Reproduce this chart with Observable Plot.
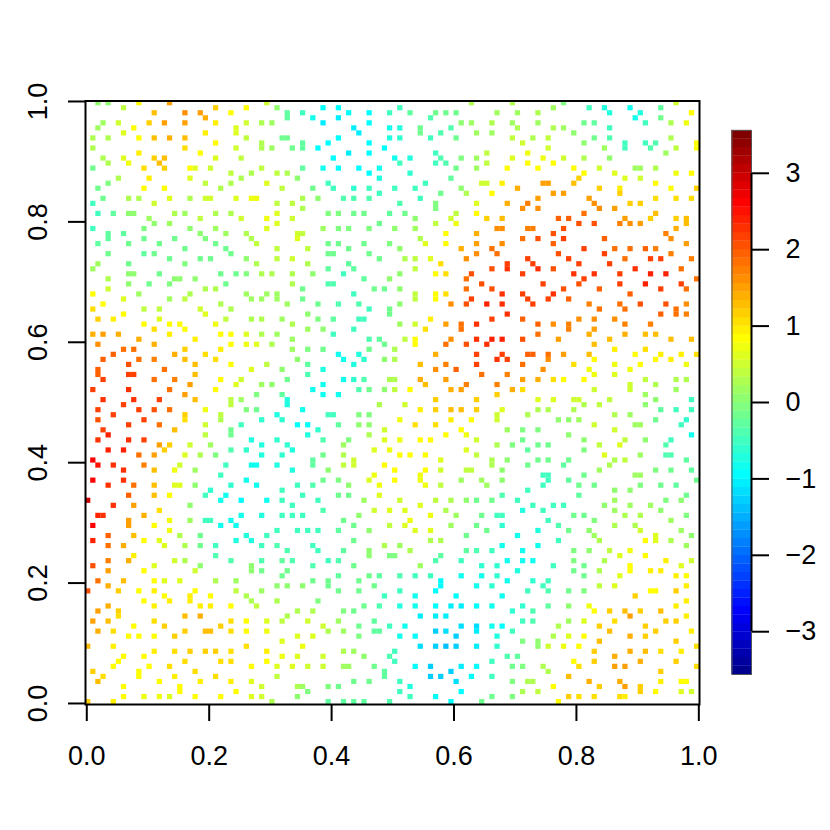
<!DOCTYPE html>
<html><head><meta charset="utf-8">
<style>html,body{margin:0;padding:0;background:#fff}#w{position:relative;width:830px;height:830px}#w svg{position:absolute;left:0;top:0;background:transparent}</style>
<script src="https://cdn.jsdelivr.net/npm/d3@7"></script>
<script src="https://cdn.jsdelivr.net/npm/@observablehq/plot@0.6"></script>
</head><body><div id="w"></div>
<script>
// each line: [grid row, col, z, col, z, ...]
const leftTop=[[119,2,.1,4,.1,10,1,16,1.6,35,.6],[118,7,.5,25,1.3,31,1,37,.1],[117,13,1.4,19,1.7,22,1.6,28,1,39,-.3],[116,23,1.5,39,-.3],[115,3,.2,6,.6,12,1.3,15,1.6,19,1.6,25,1.1,31,.6,34,.3,36,.2],[114,2,.2,9,1,29,.8],[113,7,.7,23,1.1,29,.7],[112,1,.4,4,.3,10,1,13,1.4,16,1.5,19,1.4,31,.5,38,-.2,39,-.2],[111,25,1,34,.3],[110,1,.3,19,1.2,29,.6,34,.3,36,.2],[109,10,1.1,22,1],[108,3,.3,7,.7,13,1.3,15,1.4,25,.7,30,.5],[107,4,.3,8,.9,14,1.4],[106,1,-.1,11,1.2,15,1.3,20,1,21,.7,24,.6,34,.5],[105,28,.5,32,.4,37,.5,39,.3],[104,6,.4,12,1.1,20,.7,30,.3],[103,4,0,23,.5,28,.4,35,.7],[102,2,-.2,11,1,15,1,26,.4,38,.5],[100,3,-.2,8,.4,10,.3,16,.7,20,.4,23,.6,24,.6,29,.7,32,.9,33,.9],[99,1,-.6,13,.6,37,.5],[97,2,-.5,5,-.3,8,.1,9,.1,17,.3,19,.2,25,.4,28,.3,37,.8],[96,12,.2,22,.5,30,.6,35,.9],[95,13,.1,16,.2,37,.8],[94,1,-.5,11,0,20,.1,25,.2,35,.8],[93,4,-.3,7,-.3,22,.1,27,.2,31,.3],[92,4,-.3,11,-.2,17,-.1,23,0,32,.4],[91,2,-.3,8,-.2,14,-.1,25,-.1,33,.5],[90,19,-.1,27,-.1,37,.5],[89,4,-.2,11,-.3,13,-.2,28,-.2],[88,16,-.2,22,-.2,24,-.2,31,.1,37,.5],[87,2,.2,8,-.2,19,0,33,.3],[86,1,.2],[85,8,.1,9,.1,14,-.1,26,-.2,29,-.1,31,0,34,.3,36,.4],[84,4,.4,17,.1,18,.1,21,.1],[83,8,.1,12,-.1,16,0,27,-.1],[82,4,.6,23,.3,25,.3],[81,1,1,10,.2,20,.3,31,.2,35,.2,37,.2],[80,7,.7,16,.2,19,.5,32,.2,34,.2,37,.2],[79,3,1,26,.3,39,.2]];
const leftMid=[[78,1,1.2,11,.5,14,.5,22,.6,28,.3],[77,7,1,23,.7],[76,2,1.3,5,1.1,14,.8,27,.5,32,.3,34,.3,38,.2],[75,11,1,16,1,18,1,25,.9],[74,13,1.2,19,1],[73,1,1.5,3,1.6,6,1.5,16,1.1,26,1,28,1,31,.7,34,.4,37,.2],[72,10,1.5,21,1.1],[71,2,1.7,13,1.5,28,1,31,.9,33,.7,36,.3],[70,7,1.9,9,1.9,19,1.3,26,1.1],[69,5,2,17,1.5,23,1.2],[68,3,2,10,1.9,13,1.8,19,1.4,25,1.2],[67,8,2.1,21,1.4,28,1,35,.5],[66,2,2,15,1.9,32,.7,38,.1],[65,2,2,8,2.2,9,2.2,21,1.4],[64,3,2.2,13,1.9,17,1.8,26,1,30,.6,39,-.2],[63,20,1.6,29,.7,34,.2,36,.1],[62,1,2.2,8,2.3,16,1.9,25,1],[61,19,1.6,33,0,38,-.3],[60,3,2.3,9,2.3,14,2.2,21,1.4,28,.5,30,.2,39,-.8],[59,7,2.2,28,.5,39,-.8],[58,2,2.2,10,2.2,13,2.1,16,1.9,23,.9,31,0,33,-.2],[57,5,2.2,19,1.3,26,.5,37,-.8],[56,2,2.1,11,2.2,19,1.2,26,.4,34,-.7,38,-.7],[55,8,2.2,14,1.9,23,.6,30,-.5],[54,3,2.2,17,1.4,28,-.1],[53,4,2.4,23,.5,28,-.1],[52,2,2.3,8,2.3,11,2.2,32,-.8,37,-.7],[51,14,1.6,16,1.3,20,.6,24,.2,34,-.8,39,-.7],[50,4,2.4,7,2.4,15,1.3,28,-.4,31,-.7],[49,10,1.9,13,1.6,19,.8,22,.3,25,0,34,-.8,38,-.7],[48,1,2.6],[47,2,2.5,5,2.3,11,1.8,18,.6,27,-.6,32,-.9,33,-.9,37,-.8],[46,7,2.3,13,1.4,17,.9,21,.2],[45,26,-.6],[44,1,2.7,7,2.3,31,-.9],[43,4,2.3,9,1.9,13,1.4,17,.8,18,.7,21,.1,28,-.7,33,-.9],[42,24,-.7,38,-.6],[41,8,2,13,1.4,16,1,23,-.5,27,-.9],[40,0,3,26,-.9,30,-1,35,-.9,38,-.6]];
const leftBot=[[39,5,2.3,9,1.6,20,.1],[38,14,1.2],[37,2,2.4,3,2.3,11,1.5,30,-.9,34,-.8,38,-.5],[36,8,1.6,16,.9,20,.2,23,-.5,24,-.5,28,-.9],[35,1,2.6,8,1.6,13,1,26,-.9,29,-.9],[34,16,.9,37,-.5],[33,4,2,9,1.4,18,.4,22,-.1,31,-.8,35,-.6],[32,1,2.4,11,1,14,.8,29,-.8,32,-.8],[31,4,1.9,7,1.5,15,.8,19,.3,22,-.1,25,-.5,34,-.5,37,-.4],[30,39,-.4],[29,9,1.1,25,-.4],[28,4,1.8,8,1.5,17,.6,19,.4,28,-.4,34,-.4,38,-.3],[27,1,2.1,13,.7,22,.1,32,.1],[26,4,1.6,11,1,21,.6,32,.1,34,-.2,39,-.1],[25,38,-.2],[24,2,1.9,7,1.4,13,1,15,.8,18,.7,25,.3,29,.2],[23,4,1.5,37,.1,39,.1],[22,0,2.1,6,1.3,10,1,13,1.1,21,1,29,.5,34,.2],[21,15,1,20,1.1,24,1,31,.3],[20,11,1,16,1.1,20,1.1,32,.4,37,.3],[19,4,1.5,13,1.1,22,1.1,24,1.1,28,1,33,.5],[18,2,1.6,6,1.3],[17,6,1.2,19,1.4,22,1.5,39,.3],[16,1,1.6,4,1.4,13,1.2,28,1.2,31,1,35,.8,38,.5],[15,9,1,15,1.3,26,1.3],[14,2,1.5,5,1.2,19,1.3,23,1.4,24,1.4,28,1.2,31,1,35,.9],[13,8,1,10,1,13,1,17,1.3],[12,38,.8],[11,0,1.4,5,1.1,31,1.2],[10,13,1.1,17,1.2,20,1.3,23,1.3,25,1.3,28,1.2,35,1.1],[9,7,1,11,1,38,.9],[8,6,1,19,1.2,26,1.2,28,1.2,35,1],[7,5,1,12,1,16,1.2,32,1,37,.8],[6,1,1.3,10,1,21,1.2],[5,3,1.2,10,1,17,1.1,25,1.2,37,.5],[4,2,1.4,14,1,22,1.1,28,1.1,32,.8],[3,7,1,18,1,34,.6],[2,18,1,29,1],[1,7,1,11,.9,14,.9,16,.8,21,1,26,1,32,.7,34,.6],[0,0,1.3,5,1.1,36,.3]];
const centerTop=[[119,75,.4],[118,46,-1.1,49,-1.1,61,-.5],[117,42,-.6,51,-1.1,55,-1,59,-.6,63,-.3,68,-.2,70,-.2,72,-.2],[116,44,-.9,49,-1.2,67,-.4],[115,46,-1.2,55,-1,73,.1,75,.2,79,.3],[114,52,-1.2,59,-.9,61,-.8,65,-.2,71,-.4],[113,53,-1.2,65,-.2,69,-.4,76,.2,79,.2],[112,49,-1.1,59,-.8,61,-.7,67,-.5,72,-.2],[111,42,-.3,47,-1,55,-1.1],[110,40,-.2,42,-.3,45,-1,58,-1],[109,51,-1.2,55,-1,68,-.5,78,.5],[108,48,-1.1,60,-.9,63,-.8,69,-.4,73,0,76,.2],[107,61,-.6,68,-.6,70,-.4,78,.5],[106,42,-.3,46,-.9,49,-1,53,-1.1,57,-.9,72,-.2,76,.2],[105,55,-1,63,-.7],[104,41,.1,57,-.8,71,-.3],[103,47,-.5,66,-.6,77,.6,78,.6],[102,44,-.1,48,-.5,52,-.7,55,-.5,60,-.6,64,-.6,73,.1],[101,57,-.5,69,-.2,74,.4,79,1],[100,42,.3,45,.1,50,-.4,52,-.4,55,-.4,65,-.5],[99,40,.5,61,-.4,68,0,76,.7],[98,42,.3,68,0],[97,47,0,49,0,52,-.1,54,-.1,59,-.3,62,-.1,72,.5,76,1],[96,40,.6,64,.1,71,.6,78,1.3],[95,57,-.1,68,.5,72,.9],[94,46,.2,49,0,51,0,55,0,60,.1,64,.2],[93,41,.6,42,.5,70,1,76,1.5],[92,41,.7,65,.4],[91,47,-.1,49,-.1,54,-.1,59,0,66,.7,70,1,76,1.6],[90,43,.5,51,-.2,61,.1,73,1.5,79,1.9],[89,47,-.2,48,-.2,55,-.1,76,1.7],[88,40,.6,57,-.1,62,.4,64,.5,67,.8,74,1.7],[87,43,.3,51,-.3,69,1.2],[86,47,-.3,52,-.3,64,.5,79,2.1],[85,40,.4,44,.1,50,-.5,61,.1,68,1,70,1.2,75,2.1],[84,54,-.3,59,.1,74,1.9],[83,40,.3,47,-.4,48,-.4,77,2.1],[82,42,-.1,56,-.2,58,-.1,61,.1,74,1.9,79,2.1],[81,52,-.5,64,.5,68,1,70,1.2],[80,42,-.1,64,.5,68,1,75,2.2],[79,45,-.1,49,-.4,53,-.4,61,.1,71,1.7,74,2.1,78,2.4]];
const centerMid=[[78,55,-.5,59,-.1],[77,43,.1,59,-.1],[76,45,0,48,-.3,53,-.5,54,-.5,67,1.1,79,2.2],[75,40,.3,61,.2,64,.6,70,1.6,73,1.9,76,2.3],[74,43,.2,46,.1,52,-.5,66,1.2,73,1.9],[73,48,-.5],[72,40,.2,55,-.4,57,-.3,62,.5,64,1,71,1.7,76,2.3,79,2.4],[71,58,-.2,64,1,70,1.9,74,2.1,78,2.3],[70,40,.2,43,0,46,-.2,55,-.2,60,.3],[69,49,-.9,53,-.8,68,1.5,76,2.2],[68,41,.1,50,-.9,54,-.7,58,.1,60,.3],[67,43,-.3,52,-.8,65,1.4,70,1.8,76,2.2],[66,46,-.8,68,1.7,72,2],[65,43,-.4,77,1.9],[64,50,-.9,52,-.7,54,-.4,59,.4,60,.4,65,1.5,70,1.6],[63,46,-.9,66,1.4,74,1.8],[62,44,-.9,53,-.4,55,-.2,58,.1,60,.5,63,1,71,1.5,73,1.6],[61,46,-.9,49,-.9],[60,68,1.3,76,1.3],[59,57,.4,62,.6],[58,42,-.9,65,1.1,68,1.3,71,1.4,73,1.4,76,1.3],[57,47,-.5,48,-.5,53,0,55,0],[56,61,.9,71,1.1,75,1],[55,41,-1,43,-1,49,-.3,53,.1,55,.1,64,1.2,68,1.2],[54,45,-.7,58,.6,73,1],[53,43,-.8,55,.4,70,1,74,.9],[52,46,-.4,51,0,58,.8,61,.9,65,1,67,1,76,.6],[51,50,.2],[50,40,-.8,56,.8,59,.9,74,.8],[49,46,-.2,50,.4,61,1,63,1,66,1,76,.5],[48,44,-.3,52,.6,69,.8,79,.3],[47,44,-.3,50,.5,52,.6,58,1,79,.3],[46,40,-.8,47,.1,60,1,66,1,69,.6,74,.5,75,.5],[45,56,.9,65,.9],[44,46,-.2,49,0,55,.7,60,1,65,.9,73,.2,77,.2],[43,41,-.5,44,-.4,51,.1,57,.9,66,.9,69,.5,78,.2],[41,42,-.6,49,-.2,51,-.1,57,.8],[40,45,-.5,54,.2,61,.6,68,.5,71,.3,74,.1,76,-.1,79,-.2]];
const centerBot=[[39,40,-.5,65,.8],[38,46,-.4,56,.6,59,.7,62,.8,70,.4],[37,40,-.5,42,-.5,53,.1,67,.9,72,.2,77,-.1],[36,50,-.2,63,.9],[35,52,-.1,59,.5,62,.7,71,.2,76,-.2],[34,41,-.5,43,-.5,45,-.5,49,-.3,55,.1,64,.8,67,.7,78,-.2],[33,74,-.2],[32,52,-.2,67,.3,69,.3],[31,44,-.5,58,.4,61,.2],[30,45,-.5,50,-.3,55,.1,63,.3,74,-.3,76,-.4,79,-.5],[29,55,.1,59,0,60,0,69,-.3],[28,40,-.4,47,-.5,49,-.4,68,-.4,73,-.6],[27,44,-.4,52,-.2,65,.2,77,-.7],[25,49,-.3,55,-.2,57,-.3,61,-.4,64,-.5,67,-.6,73,-.9,77,-.9],[24,44,-.1,47,-.1,53,-.1,69,-1],[23,42,.1,47,-.1,56,-.1,69,-1,76,-.9,79,-.7],[22,49,-.1,53,-.2,61,-.5,68,-1.1],[21,58,-.5,64,-.9,72,-1],[20,45,0],[19,54,-.2,57,-.4,61,-.8,64,-.9,68,-1.1,71,-1.2,73,-1.2,76,-1.1,79,-.9],[18,41,.3,44,.3,50,0,52,-.1],[17,65,-1.2,68,-1.2,70,-1.2],[16,43,.6,49,.2,56,-.3],[15,46,.6,53,-.1,59,-.6,62,-.9,73,-1.3,76,-1.3,79,-.9],[14,47,.4,50,.2,56,-.3,57,-.3,68,-1.4,70,-1.3,76,-1.2],[13,41,.8,44,.7,53,0,61,-.9,64,-1.1,72,-1.4],[11,42,.9,65,-1.3,68,-1.4,70,-1.5,72,-1.4,76,-1.2],[10,50,.3,52,.2,60,-.5],[9,41,.7,46,.6,54,.1,59,-.4],[8,60,-.5,79,-.5],[7,40,.7,43,.6,46,.6,50,.2,51,.2,56,-.2,64,-1.1,67,-1.4,73,-1.2,76,-1.1],[6,58,-.3,71,-1.4],[5,58,-.3,67,-1.4,69,-1.4,75,-1,79,-.6],[4,52,-.1,55,-.1,61,-.6,72,-1.3],[3,41,.3,42,.2,47,0,49,-.1,63,-.8],[2,43,0,61,-.5,73,-1],[1,41,.1,63,-.5,68,-1,79,-.2],[0,47,-.3,50,-.3,52,-.3,54,-.3,59,-.4,71,-1,77,-.1]];
const rightTop=[[119,83,.4,93,0,115,.6],[118,91,.2,98,-.5,101,-.8,106,-.9,112,-.3],[117,80,.2,84,.2,88,.3,102,-.8,108,-.8,118,1],[116,107,-.9,112,-.2],[115,83,.2,88,.2,97,-.2,99,-.3,109,-.6,114,.3,117,.9],[114,84,.3,91,.3,93,.2,102,-.6],[113,95,.1],[112,83,.5,87,.4,90,.5,99,-.1,102,-.4,114,.4],[111,85,.6,97,.1,105,-.5,109,-.5,111,-.4,119,1],[110,90,.6,101,.2,105,-.5,110,-.4,115,.5,119,1],[109,86,.9,113,.2],[108,83,.7,89,.9,93,.6,97,.4,102,.1],[107,86,1,91,1],[106,82,1,88,1,95,1,100,.6,107,.2,108,.2,111,.3],[105,97,1,103,.7,115,.9,118,1],[104,96,1.3,105,.7,108,.6],[103,81,1.1,89,1.6,90,1.6,95,1.4,111,1],[102,84,1.5,100,1.3,104,1.1,114,1,119,1.3],[101,91,1.6,93,1.6,104,1.3],[100,88,1.6,98,1.6,111,1.2,115,1.2,118,1.2],[99,82,1.5,86,1.8,99,1.7,106,1.3,108,1.3],[98,85,1.7,88,1.7,100,1.7,103,1.6],[97,97,1.9,111,1.4],[96,81,1.4,92,2,94,2,105,1.6,110,1.3,115,1.3,117,1.4],[95,96,2.1,99,2.1,104,1.8,106,1.7,108,1.6,117,1.4],[94,80,1.7,81,1.7,86,1.8,87,1.8,93,2.1,115,1.5],[93,91,2.1,113,1.8],[92,85,1.9,88,2.1,93,2.2,101,2,114,1.7],[91,81,1.7,91,2,117,1.6],[90,97,2.2,103,1.9,106,1.9,109,2,111,1.8],[89,80,1.9,92,2.1,101,2.2,114,1.8],[88,86,2.2,94,2.2,105,1.9,110,2.2,112,2.2,118,1.8],[87,82,2.2,87,2.2,96,2.2,102,2.2],[86,82,2.3,88,2.3,91,2.1,107,2.3,116,1.9],[85,85,2.2,95,2.3,99,2.3,104,2.2,110,2.4,113,2.4],[84,97,2.2,119,1.9],[83,89,2.2,96,2.1,104,2.2,109,2.4,116,2.2],[82,93,2.1,100,2,112,2.2,117,1.9],[81,81,2.3,85,2.2,91,2.3,106,2],[80,86,2.2,90,2.2,94,2],[79,81,2.3,87,2.2,98,1.8,104,1.9,108,2.1,113,2.1,117,1.7]];
const rightMid=[[78,100,1.9,105,1.9,115,1.9],[77,82,2.3,112,2,115,1.9,117,1.8],[76,85,2,96,1.7,99,1.7,103,1.7],[75,88,2,91,1.7,94,1.8,105,1.8,110,1.8],[74,94,1.8,99,1.6],[73,88,1.9,98,1.5,105,1.5,109,1.4,111,1.4],[72,81,2.4,85,2.1,92,1.6,102,1.4,114,1.4,118,1.4],[71,99,1.4],[70,103,1.1,109,1.2],[69,81,2.2,86,2,87,2,90,1.9,93,1.6,98,1.4,107,1,112,1.1,116,1.1,119,1.2],[68,80,2.3,82,2.2,90,1.7,99,1,111,1,114,1.1],[67,85,1.9,95,1.2,103,.9,108,1,117,.9],[66,89,1.7,98,.9,106,.9],[65,82,1.8,99,.9,103,.8],[64,85,1.6,88,1.5,91,1.2,93,1,97,1,109,.5,115,.3,117,.3],[63,80,1.8,106,.6,111,.4],[62,83,1.5,85,1.2,99,.6,106,.6,115,.2],[61,80,1.3,109,.2],[60,88,.8,91,.7,95,.6,96,.6,102,.5,111,.1,118,-.5],[59,97,.4,100,.5,109,.1],[58,81,.7,88,.4,90,.3,95,.4,112,-.3,115,-.6,118,-.5],[57,80,.6,86,.3,103,.3,106,.2],[56,80,.6,92,.1,94,.1,96,.2,111,-.1,117,-.7],[55,99,.6,107,.2,108,.2,116,-.6],[54,82,.2,85,0,88,0,103,.6],[53,94,.1,118,-.9],[52,85,-.2,97,.1,105,.5,109,.1,114,-.6],[51,80,.3,83,0,88,-.1,90,-.1,100,.5,104,.7,113,-.4],[50,86,-.3,97,0],[49,101,.7,108,.2,113,-.4,114,-.4],[48,82,.1,88,-.2,90,-.2,94,-.2,103,.4,105,.5,117,-.3],[47,86,-.1,93,-.3,102,.3],[46,81,.1,100,.2,111,0,114,-.2,118,-.3],[45,89,-.5,90,-.5,97,-.2,107,.2,108,.2],[44,81,.1,90,-.5,94,-.3,119,-.1],[43,89,-.6,96,-.2,99,-.1,108,0,112,-.2,115,-.3],[42,86,-.5,103,.1,106,.1],[41,81,-.4,96,-.3,117,-.2],[40,84,-.6,103,.2,113,0,116,.1]];
const rightBot=[[39,87,-.6,91,-.5,93,-.5,101,.1,106,.2,110,.2],[38,85,-.8,89,-.6,103,.2,112,.1],[37,80,-.5,81,-.5,95,-.2,97,-.2,105,.3,108,.3,117,0],[36,90,-.6,99,0,114,.2],[35,81,-.7,92,-.4,103,.3,107,.4],[34,88,-.8,94,-.1,98,.1,108,.6,116,.2],[33,84,-.9,99,.2,111,.7,118,.1],[32,92,-.5,100,.3,109,1,111,.7,114,.4],[31,81,-.9,88,-.9,117,.2],[30,85,-.9,95,0,98,.1,102,.5,106,.9],[29,104,.7,109,1],[28,82,-.9,85,-.9,87,-.9,95,0,101,.3,113,1.1,118,.6],[27,80,-.7,91,-.5,97,-.1,106,1,116,.8],[26,84,-.8,95,-.1,100,.3,106,1,110,1.1,112,1.1],[25,80,-.7,97,-.2,104,.8,115,1.1,117,1],[24,82,-.9,87,-.7,90,-.5],[23,89,-.6,100,.5,103,.8,117,1.1],[22,86,-.6,90,-.4,94,-.1,97,0,110,1,111,1,115,1.3],[21,81,-.9,107,1.3],[20,117,1.1],[19,85,-.7,90,-.3,94,.1,98,.9,115,1.1],[18,83,-.7,87,-.4,99,1,102,1.3,105,1.4,108,1.3,112,1.4],[17,106,1.6,117,1.1],[16,85,-.5,87,-.4,94,.2,97,.8,103,1.2,113,1.3,115,1.3],[15,81,-1,92,.3,100,1.3,109,1.3],[14,83,-.6,102,1.4,111,1.3,118,1.1],[13,80,-.8,91,.4,94,.8,97,1,106,1.5,109,1.3],[12,85,0,88,.1,100,1.4,115,1.3],[11,80,-.7,88,.1,90,.6,93,.9,96,1,119,1.2],[10,99,1.3,106,1.5,109,1.4,112,1.2,116,1.1],[9,82,-.4,84,-.3,103,1.5],[8,95,1,99,1.3,108,1.5,115,1.3],[7,83,-.1,85,0,89,.4,96,1.2,103,1.6,105,1.6,119,1.2],[6,90,.4,112,1.3],[5,94,1.4],[4,83,0,86,.3,87,.3,98,1.5,104,1.5,112,1.1,116,1,117,1],[3,91,1,100,1.3,105,1.6,108,1.3],[2,85,.3,88,.5,108,1.3,111,1,116,.7,118,.6],[1,83,0,94,1.3,96,1.2,99,1.2,104,1.2,105,1.1],[0,92,1]];

const timColors=["#00008F","#00009F","#0000AF","#0000BF","#0000CF","#0000DF","#0000EF","#0000FF","#0010FF","#0020FF","#0030FF","#0040FF","#0050FF","#0060FF","#0070FF","#0080FF","#008FFF","#009FFF","#00AFFF","#00BFFF","#00CFFF","#00DFFF","#00EFFF","#00FFFF","#10FFEF","#20FFDF","#30FFCF","#40FFBF","#50FFAF","#60FF9F","#70FF8F","#80FF80","#8FFF70","#9FFF60","#AFFF50","#BFFF40","#CFFF30","#DFFF20","#EFFF10","#FFFF00","#FFEF00","#FFDF00","#FFCF00","#FFBF00","#FFAF00","#FF9F00","#FF8F00","#FF8000","#FF7000","#FF6000","#FF5000","#FF4000","#FF3000","#FF2000","#FF1000","#FF0000","#EF0000","#DF0000","#CF0000","#BF0000","#AF0000","#9F0000","#8F0000","#800000"];
const zMax=3.56;
const edges=timColors.map((_,i)=>-zMax+(i+1)*2*zMax/64).slice(0,63);
const levels=timColors.map((_,i)=>({lo:-zMax+i*2*zMax/64,hi:-zMax+(i+1)*2*zMax/64,c:(-zMax+(i+.5)*2*zMax/64)}));
const colorOpts={type:"threshold",domain:edges,range:timColors};
const xTicks=[0,.2,.4,.6,.8,1], barTicks=[-3,-2,-1,0,1,2,3];
const fontFam='"Liberation Sans",Arial,sans-serif', fs=27;

// colour-read values to colour-bar values
const readZ=d3.scaleLinear([-2,-1,0,1,2,3],[-1.9,-.9,-.03,.83,1.9,3]);
const gx=i=>.0023+.00836*i, half=.0043;
const seen=new Map();
for(const band of [leftTop,leftMid,leftBot,centerTop,centerMid,centerBot,rightTop,rightMid,rightBot])
  for(const line of band){const r=line[0];
    for(let k=1;k<line.length;k+=2){seen.set(line[k]+"_"+r,{x:gx(line[k]),y:gx(r),z:readZ(line[k+1])});}}
const pts=[...seen.values()];

const main=Plot.plot({width:830,height:830,marginLeft:85,marginRight:131,marginTop:100.5,marginBottom:126,
  style:{fontFamily:fontFam,fontSize:fs+"px",color:"#000",background:"transparent"},
  x:{domain:[-.0021,1.0011]},y:{domain:[-.0017,1.0008]},color:colorOpts,
  marks:[
    Plot.rect(pts,{x1:d=>d.x-half,x2:d=>d.x+half,y1:d=>d.y-half,y2:d=>d.y+half,fill:"z"}),
    Plot.frame({stroke:"#000",strokeWidth:2}),
    Plot.axisX({ticks:xTicks,tickFormat:d=>d.toFixed(1),tickSize:17,tickPadding:24,strokeWidth:2,stroke:"#000",fill:"#000",label:null,fontSize:fs}),
    Plot.axisY({ticks:xTicks,tickFormat:d=>d.toFixed(1),tickSize:17,tickPadding:22,strokeWidth:2,stroke:"#000",fill:"#000",label:null,tickRotate:-90,textAnchor:"middle",lineAnchor:"bottom",fontSize:fs})
  ]});
const bar=Plot.plot({width:830,height:830,marginLeft:731.5,marginRight:79,marginTop:130,marginBottom:156,
  style:{fontFamily:fontFam,fontSize:fs+"px",color:"#000",background:"transparent"},
  x:{domain:[0,1],axis:null},y:{domain:[-zMax,zMax]},color:colorOpts,
  marks:[
    Plot.rect(levels,{x1:0,x2:1,y1:"lo",y2:"hi",fill:"c",stroke:"c",strokeWidth:.3}),
    Plot.frame({stroke:"#555",strokeWidth:1}),
    Plot.ruleX([1],{y1:-3,y2:3,stroke:"#000",strokeWidth:2}),
    Plot.axisY({anchor:"right",ticks:barTicks,tickFormat:d=>d<0?"\u2212"+(-d):""+d,tickSize:17,tickPadding:17,strokeWidth:2,stroke:"#000",fill:"#000",label:null,fontSize:fs})
  ]});
document.getElementById("w").append(main,bar);
</script></body></html>
